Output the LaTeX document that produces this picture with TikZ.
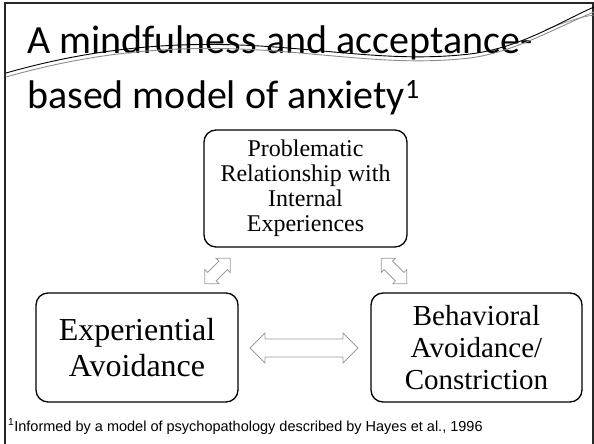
\documentclass[tikz,border=0pt]{standalone}
\usepackage{fontspec}
\newfontfamily\titlefont{Carlito}
\newfontfamily\notefont{Liberation Sans}
\newfontfamily\boxfont{Liberation Serif}
\newcommand\blockarrow[8]{%
  \begin{scope}[shift={(#1,#2)}, rotate=#3]
    \draw[arrowline] (-#4/2,0) -- (-#4/2+#7,-#5) -- (-#4/2+#7,-#6) -- (#4/2-#7,-#6)
      -- (#4/2-#7,-#5) -- (#4/2,0) -- (#4/2-#7,#5) -- (#4/2-#7,#6)
      -- (-#4/2+#7,#6) -- (-#4/2+#7,#5) -- cycle;
    \coordinate (#8) at (0,0);
  \end{scope}}
\tikzset{
  box/.style={draw, line width=1.3pt, rounded corners=12pt, align=center, inner sep=0pt, fill=white},
  arrowline/.style={draw=black!38, line width=0.8pt, fill=white, line join=miter},
  titletext/.style={anchor=base west, text=black, font=\titlefont\fontsize{40}{40}\selectfont, inner sep=0pt},
}
\begin{document}
\begin{tikzpicture}[x=1pt,y=-1pt]
\useasboundingbox (0,0) rectangle (594,444);
\fill[white] (0,0) rectangle (594,444);
\draw[line width=2pt, black!85] (5,446) -- (5,3) -- (593,3) -- (593,446);

\node[titletext] (t1) at (27,53) {A mindfulness and acceptance-};
\node[titletext] (t2) at (27,108) {based model of anxiety\textsuperscript{1}};

% scribbled lines over the title
\draw[black!45, line width=0.9pt] (6,77) .. controls (80,56) and (160,44) .. (260,50)
  .. controls (340,55) and (400,66) .. (470,58) .. controls (515,52) and (555,28) .. (594,12);
\draw[black!45, line width=0.7pt] (545,30) .. controls (565,22) and (580,17) .. (594,15);
\draw[black, line width=0.9pt] (6,73) .. controls (80,52) and (160,40) .. (260,46)
  .. controls (340,51) and (400,62) .. (470,54) .. controls (520,48) and (560,22) .. (594,7);

\node[box, minimum width=203pt, minimum height=117pt,
      font=\boxfont\fontsize{24}{25}\selectfont] (top) at (305.5,188.5)
  {Problematic\\Relationship with\\Internal\\Experiences};
\node[box, minimum width=202pt, minimum height=109pt,
      font=\boxfont\fontsize{32}{36}\selectfont] (left) at (137,347.5)
  {Experiential\\Avoidance};
\node[box, minimum width=211pt, minimum height=109pt,
      font=\boxfont\fontsize{29}{32}\selectfont] (right) at (476.5,347.5)
  {Behavioral\\Avoidance/\\Constriction};

\blockarrow{304}{348}{0}{108}{15}{9}{15}{harr}
\blockarrow{217.5}{271}{45}{36}{10}{6}{10}{larr}
\blockarrow{394}{271}{-45}{36}{10}{6}{10}{rarr}

\node[anchor=base west, inner sep=0pt, font=\notefont\fontsize{14.5}{14.5}\selectfont] (fn) at (8,431)
  {\textsuperscript{1}Informed by a model of psychopathology described by Hayes et al., 1996};
\end{tikzpicture}
\end{document}
